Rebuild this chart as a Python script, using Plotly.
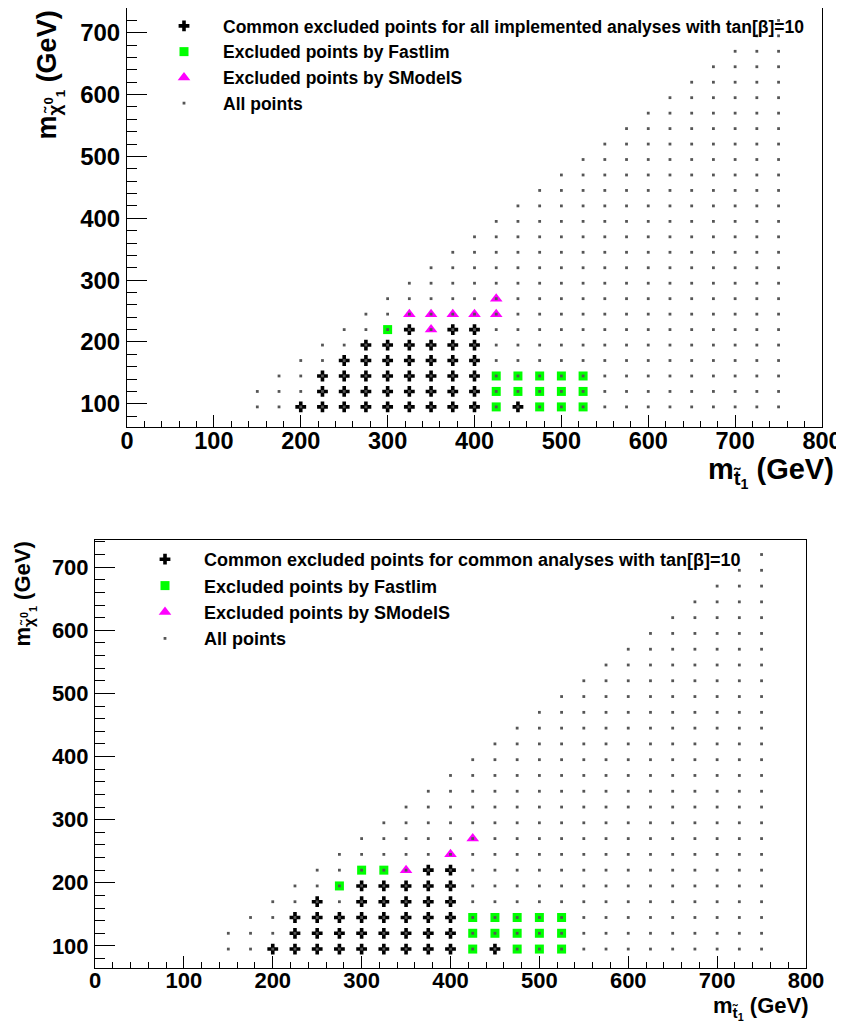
import plotly.graph_objects as go

# ---------------- data ----------------
# scanned grid: stop mass columns and the highest neutralino mass in each column
grid_x = [150, 175, 200, 225, 250, 275, 300, 325, 350, 375, 400, 425, 450,
          475, 500, 525, 550, 575, 600, 625, 650, 675, 700, 725, 750]
grid_top = [120, 145, 170, 195, 220, 245, 270, 295, 320, 345, 370, 395, 420,
            445, 470, 495, 520, 545, 570, 595, 620, 645, 670, 695, 720]
grid_y = [95, 120, 145, 170, 195, 220, 245, 270, 295, 320, 345, 370, 395,
          420, 445, 470, 495, 520, 545, 570, 595, 620, 645, 670, 695, 720]

# top panel: all implemented analyses
a_common_x = [200, 225, 250, 275, 300, 325, 350, 375, 400, 450,
              225, 250, 275, 300, 325, 350, 375, 400,
              225, 250, 275, 300, 325, 350, 375, 400,
              250, 275, 300, 325, 350, 375, 400,
              275, 300, 325, 350, 375, 400,
              325, 375, 400]
a_common_y = [95] * 10 + [120] * 8 + [145] * 8 + [170] * 7 + [195] * 6 + [220] * 3
a_fast_x = [425, 475, 500, 525, 425, 450, 475, 500, 525, 425, 450, 475, 500, 525, 300]
a_fast_y = [95, 95, 95, 95, 120, 120, 120, 120, 120, 145, 145, 145, 145, 145, 220]
a_smod_x = [350, 325, 350, 375, 400, 425, 425]
a_smod_y = [220, 245, 245, 245, 245, 245, 270]

# bottom panel: common analyses
b_common_x = [200, 225, 250, 275, 300, 325, 350, 375, 400, 450,
              225, 250, 275, 300, 325, 350, 375, 400,
              225, 250, 275, 300, 325, 350, 375, 400,
              250, 300, 325, 350, 375, 400,
              300, 325, 350, 375, 400,
              375, 400]
b_common_y = [95] * 10 + [120] * 8 + [145] * 8 + [170] * 6 + [195] * 5 + [220] * 2
b_fast_x = [425, 475, 500, 525, 425, 450, 475, 500, 525, 425, 450, 475, 500, 525, 275, 300, 325]
b_fast_y = [95, 95, 95, 95, 120, 120, 120, 120, 120, 145, 145, 145, 145, 145, 195, 220, 220]
b_smod_x = [350, 400, 425]
b_smod_y = [220, 245, 270]

labels_a = ["Common excluded points for all implemented analyses with tan[\u03b2]=10",
            "Excluded points by Fastlim", "Excluded points by SModelS", "All points"]
labels_b = ["Common excluded points for common analyses with tan[\u03b2]=10",
            "Excluded points by Fastlim", "Excluded points by SModelS", "All points"]

all_x, all_y = [], []
for gx, top in zip(grid_x, grid_top):
    for gy in grid_y:
        if gy <= top:
            all_x.append(gx)
            all_y.append(gy)

# ---------------- figure ----------------
# the page body has an 8px margin, so the figure is drawn 8px right/down
OFF = 8
W, H = 844 - OFF, 1029 - OFF
FONT = "Liberation Sans, Arial, sans-serif"

fig = go.Figure()


def add_panel(xa, ya, leg, cx, cy, fx, fy, sx, sy, labels):
    common = dict(xaxis=xa, yaxis=ya, legend=leg, mode="markers", hoverinfo="skip")
    fig.add_trace(go.Scatter(x=cx, y=cy, name=labels[0],
                             marker=dict(symbol="cross", size=9, color="black",
                                         line=dict(width=0)), **common))
    fig.add_trace(go.Scatter(x=fx, y=fy, name=labels[1],
                             marker=dict(symbol="square", size=9, color="#00ff00",
                                         line=dict(width=0)), **common))
    fig.add_trace(go.Scatter(x=sx, y=sy, name=labels[2],
                             marker=dict(symbol="triangle-up", size=11, color="#ff00ff",
                                         line=dict(width=0)), **common))
    fig.add_trace(go.Scatter(x=all_x, y=all_y, name=labels[3],
                             marker=dict(symbol="square", size=2.8, color="#555555",
                                         line=dict(width=0)), **common))


add_panel("x", "y", "legend", a_common_x, a_common_y, a_fast_x, a_fast_y,
          a_smod_x, a_smod_y, labels_a)
add_panel("x2", "y2", "legend2", b_common_x, b_common_y, b_fast_x, b_fast_y,
          b_smod_x, b_smod_y, labels_b)


def axis_style(dom, rng, fsize, major_len, minor_len, anchor, standoff):
    return dict(domain=dom, range=rng, anchor=anchor, showgrid=False, zeroline=False,
                automargin=False,
                showline=True, linecolor="black", linewidth=1, mirror=True,
                ticks="inside", ticklen=major_len, tickcolor="black", tickwidth=1,
                dtick=100, tick0=0, ticklabelstandoff=standoff,
                minor=dict(ticks="inside", ticklen=minor_len, dtick=20, tickcolor="black"),
                tickfont=dict(family=FONT, size=fsize, color="black", weight="bold"))


px_ = lambda v: (v - OFF) / W
py_ = lambda v: 1 - (v - OFF) / H

# top panel frame: x 127..822, y 8..427 ; bottom frame: x 95..806, y 540..968
fig.update_layout(
    xaxis=axis_style([px_(127), px_(822)], [0, 800], 23.5, 12, 6, "y", -7),
    yaxis=axis_style([py_(427), py_(8)], [62.5, 740], 24, 20, 10, "x", 1),
    xaxis2=axis_style([px_(95), px_(806)], [0, 800], 22, 12, 6, "y2", -7),
    yaxis2=axis_style([py_(968), py_(540)], [65, 743], 22, 20, 10, "x2", 1),
)

leg_common = dict(bgcolor="rgba(0,0,0,0)", borderwidth=0, xanchor="left", yanchor="top",
                  itemwidth=68, tracegroupgap=0, traceorder="normal",
                  itemclick=False, itemdoubleclick=False)
fig.update_layout(
    legend=dict(x=px_(145), y=py_(8),
                font=dict(family=FONT, size=17.5, color="black", weight="bold"), **leg_common),
    legend2=dict(x=px_(126), y=py_(541),
                 font=dict(family=FONT, size=18, color="black", weight="bold"), **leg_common),
)

title_font = lambda s: dict(family=FONT, size=s, color="black", weight="bold")
annotations = [
    dict(text="m<sub>t\u0303<sub>1</sub></sub> (GeV)", x=px_(836), y=py_(472),
         xref="paper", yref="paper", xanchor="right", yanchor="middle",
         showarrow=False, font=title_font(29)),
    dict(text="m<sub>\u03c7\u0303<sup>0</sup><sub>1</sub></sub> (GeV)", x=px_(50), y=py_(9),
         xref="paper", yref="paper", xanchor="center", yanchor="top", textangle=-90,
         showarrow=False, font=title_font(27)),
    dict(text="m<sub>t\u0303<sub>1</sub></sub> (GeV)", x=px_(811), y=py_(1008),
         xref="paper", yref="paper", xanchor="right", yanchor="middle",
         showarrow=False, font=title_font(22)),
    dict(text="m<sub>\u03c7\u0303<sup>0</sup><sub>1</sub></sub> (GeV)", x=px_(24), y=py_(540),
         xref="paper", yref="paper", xanchor="center", yanchor="top", textangle=-90,
         showarrow=False, font=title_font(22)),
]

fig.update_layout(
    width=W, height=H, margin=dict(l=0, r=0, t=0, b=0),
    paper_bgcolor="white", plot_bgcolor="white",
    showlegend=True, annotations=annotations,
)

fig.write_html("out.html")
